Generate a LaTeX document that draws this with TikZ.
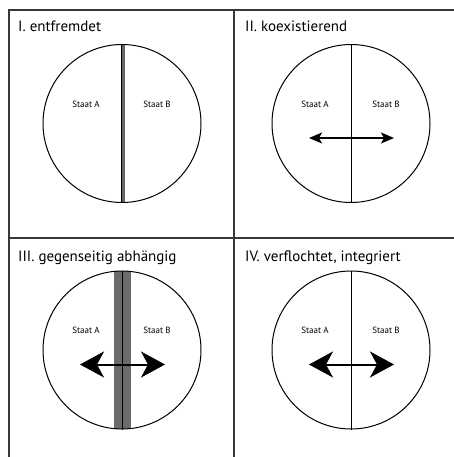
\documentclass[tikz,border=0pt]{standalone}
\usepackage{fontspec}
\setmainfont{PT Sans}
\usetikzlibrary{positioning,arrows.meta,calc}
\tikzset{
  frameline/.style={draw=black!78,line width=1.3pt},
  staatkreis/.style={draw,circle,line width=1pt,minimum size=158pt,inner sep=0pt},
  titel/.style={anchor=base west,inner sep=0pt,font=\fontsize{15}{17}\selectfont},
  staat/.style={inner sep=0pt,font=\fontsize{9}{10}\selectfont},
  pfeilklein/.style={line width=1.5pt,{Stealth[length=13pt,width=11pt,inset=3pt]}-{Stealth[length=13pt,width=11pt,inset=3pt]}},
  pfeilgross/.style={line width=2pt,{Stealth[length=24pt,width=26pt,inset=7pt]}-{Stealth[length=24pt,width=26pt,inset=7pt]}},
}
\begin{document}
\begin{tikzpicture}[x=1pt,y=-1pt]
  \useasboundingbox (0,0) rectangle (454,457);
  \coordinate (m1) at (122,123.5);
  \coordinate (m2) at (351,123.5);
  \coordinate (m3) at (122,350);
  \coordinate (m4) at (351,350);
  \coordinate (olinks) at (9,10);
  \coordinate (orechts) at (454,10);
  \coordinate (ulinks) at (9,457);
  \coordinate (omitte) at (234,10);
  \coordinate (umitte) at (234,457);
  \coordinate (mlinks) at (9,238);
  \coordinate (mrechts) at (454,238);
  \draw[frameline] (ulinks) -- (olinks) -- (orechts);
  \draw[frameline] (omitte) -- (umitte);
  \draw[frameline] (mlinks) -- (mrechts);
  \node[titel] (t1) at (18,32) {I. entfremdet};
  \node[titel] (t2) at (245,32) {II. koexistierend};
  \node[titel] (t3) at (18,261) {III. gegenseitig abhängig};
  \node[titel] (t4) at (245,261) {IV. verflochtet, integriert};
  \fill[black!58] ($(m3)+(-8.5,-79)$) rectangle ($(m3)+(8.5,79)$);
  \fill[black!60] ($(m1)+(-1.5,-79)$) rectangle ($(m1)+(2.5,79)$);
  \foreach \i in {1,...,4} {
    \node[staatkreis] (k\i) at (m\i) {};
    \node[staat] (a\i) at ($(m\i)+(-36,-19.5)$) {Staat A};
    \node[staat] (b\i) at ($(m\i)+(35,-19.5)$) {Staat B};
    \coordinate (pl\i) at ($(m\i)+(-42,14.5)$);
    \coordinate (pr\i) at ($(m\i)+(43,14.5)$);
  }
  \draw[line width=1.5pt] ($(k1.north)+(-0.5,0)$) -- ($(k1.south)+(-0.5,0)$);
  \foreach \i in {2,3,4}
    \draw[line width=1pt] (k\i.north) -- (k\i.south);
  \draw[pfeilklein] (pl2) -- (pr2);
  \draw[pfeilgross] (pl3) -- (pr3);
  \draw[pfeilgross] (pl4) -- (pr4);
\end{tikzpicture}
\end{document}
